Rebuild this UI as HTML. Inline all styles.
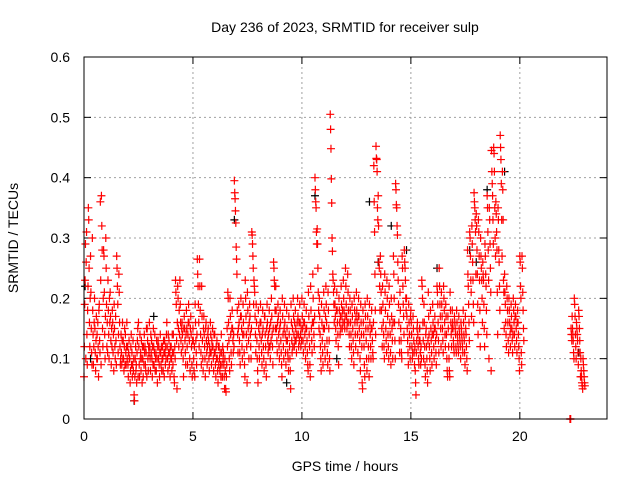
<!DOCTYPE html>
<html><head><meta charset="utf-8"><style>
body{margin:0;background:#fff}
svg{display:block;font-family:"Liberation Sans",sans-serif}
</style></head><body>
<svg id="chart" width="640" height="480">
<rect width="640" height="480" fill="#fff"/>
<text x="345" y="32" text-anchor="middle" font-size="14">Day 236 of 2023, SRMTID for receiver sulp</text>
<text x="345" y="471" text-anchor="middle" font-size="14">GPS time / hours</text>
<text transform="translate(18,238) rotate(-90)" text-anchor="middle" font-size="14">SRMTID / TECUs</text>
<g id="grid"></g><g id="axes"></g><g id="black"></g><g id="red"></g>
<rect x="84" y="57" width="523" height="362" fill="none" stroke="#000"/>
</svg>
<script>
const xTicks=[0,5,10,15,20];
const yTicks=[0,0.1,0.2,0.3,0.4,0.5,0.6];
const yTickLabels=["0","0.1","0.2","0.3","0.4","0.5","0.6"];
const redTimes=[0.0,0.1,0.2,0.3,0.4,0.5,0.6,0.7,0.8,0.9,1.0,1.1,1.2,1.3,1.4,1.5,1.6,1.7,1.8,1.9,2.0,2.1,2.2,2.3,2.4,2.5,2.6,2.7,2.8,2.9,3.0,3.1,3.2,3.3,3.4,3.5,3.6,3.7,3.8,3.9,4.0,4.1,4.2,4.3,4.4,4.5,4.6,4.7,4.8,4.9,5.0,5.1,5.2,5.3,5.4,5.5,5.6,5.7,5.8,5.9,6.0,6.1,6.2,6.3,6.4,6.5,6.6,6.7,6.8,6.9,7.0,7.1,7.2,7.3,7.4,7.5,7.6,7.7,7.8,7.9,8.0,8.1,8.2,8.3,8.4,8.5,8.6,8.7,8.8,8.9,9.0,9.1,9.2,9.3,9.4,9.5,9.6,9.7,9.8,9.9,10.0,10.1,10.2,10.3,10.4,10.5,10.6,10.7,10.8,10.9,11.0,11.1,11.2,11.3,11.4,11.5,11.6,11.7,11.8,11.9,12.0,12.1,12.2,12.3,12.4,12.5,12.6,12.7,12.8,12.9,13.0,13.1,13.2,13.3,13.4,13.5,13.6,13.7,13.8,13.9,14.0,14.1,14.2,14.3,14.4,14.5,14.6,14.7,14.8,14.9,15.0,15.1,15.2,15.3,15.4,15.5,15.6,15.7,15.8,15.9,16.0,16.1,16.2,16.3,16.4,16.5,16.6,16.7,16.8,16.9,17.0,17.1,17.2,17.3,17.4,17.5,17.6,17.7,17.8,17.9,18.0,18.1,18.2,18.3,18.4,18.5,18.6,18.7,18.8,18.9,19.0,19.1,19.2,19.3,19.4,19.5,19.6,19.7,19.8,19.9,20.0,20.1,22.3,22.4,22.5,22.6,22.7,22.8,22.9];
const redValues=[
[.07,.12,.19,.23,.29,.10],[.26,.31,.14,.09,.18,.22],[.35,.33,.25,.16,.12,.2],[.27,.21,.15,.11,.09,.3],[.18,.14,.09,.12,.16,.2],[.15,.11,.08,.13,.17,.1],[.14,.10,.16,.12,.07,.18],[.19,.13,.11,.36,.23,.09],[.37,.32,.28,.15,.12,.2],[.28,.27,.21,.14,.10,.17],
[.30,.25,.19,.12,.16,.11],[.23,.18,.14,.10,.20,.16],[.21,.17,.13,.09,.15,.12],[.18,.16,.11,.14,.08,.19],[.15,.12,.10,.17,.13,.09],[.27,.25,.22,.19,.11,.14],[.24,.21,.16,.12,.09,.1],[.14,.11,.09,.13,.16,.1],[.13,.10,.08,.12,.15,.09],[.14,.11,.09,.12,.16,.1],
[.12,.09,.07,.11,.13,.1],[.10,.06,.08,.12,.14,.09],[.11,.07,.09,.13,.08,.1],[.04,.03,.07,.10,.12,.08],[.09,.06,.11,.13,.15,.07],[.16,.12,.09,.07,.14,.1],[.11,.08,.13,.10,.06,.12],[.10,.07,.12,.09,.14,.11],[.12,.09,.08,.11,.15,.07],[.15,.13,.10,.08,.12,.11],
[.16,.12,.10,.08,.14,.11],[.13,.10,.07,.12,.09,.15],[.12,.09,.11,.14,.08,.1],[.11,.08,.13,.10,.06,.12],[.13,.10,.12,.09,.07,.11],[.14,.11,.09,.12,.08,.1],[.12,.10,.08,.13,.11,.07],[.13,.11,.09,.12,.10,.14],[.16,.12,.10,.08,.14,.11],[.13,.09,.11,.07,.12,.1],
[.12,.10,.08,.14,.11,.09],[.14,.11,.07,.06,.12,.1],[.23,.21,.19,.13,.05,.16],[.22,.20,.15,.12,.18,.14],[.23,.19,.16,.13,.11,.15],[.16,.14,.12,.10,.07,.15],[.17,.15,.13,.11,.09,.14],[.18,.15,.12,.09,.14,.16],[.19,.16,.13,.10,.08,.15],[.17,.14,.12,.09,.07,.13],
[.15,.13,.10,.08,.12,.07],[.19,.16,.13,.11,.09,.14],[.265,.24,.22,.19,.16,.12],[.265,.22,.18,.14,.11,.09],[.22,.17,.13,.10,.08,.15],[.17,.14,.12,.10,.07,.15],[.16,.13,.11,.09,.12,.14],[.15,.13,.10,.08,.12,.11],[.16,.14,.11,.09,.13,.12],[.15,.12,.10,.08,.14,.11],
[.14,.11,.09,.07,.12,.1],[.13,.10,.08,.06,.12,.09],[.12,.10,.08,.11,.09,.07],[.14,.11,.09,.07,.12,.1],[.11,.09,.07,.05,.10,.08],[.05,.045,.07,.09,.15,.12],[.21,.20,.16,.13,.10,.08],[.20,.17,.14,.11,.09,.15],[.18,.15,.13,.11,.14,.12],[.395,.375,.365,.345,.325,.285],
[.265,.24,.18,.14,.11,.15],[.19,.16,.13,.11,.09,.17],[.20,.17,.15,.12,.10,.14],[.19,.16,.14,.11,.09,.07],[.23,.20,.17,.14,.12,.06],[.21,.18,.15,.13,.10,.16],[.19,.17,.14,.12,.10,.15],[.31,.305,.29,.27,.25,.19],[.23,.22,.21,.17,.14,.11],[.19,.16,.13,.10,.08,.06],
[.18,.15,.12,.10,.14,.16],[.19,.16,.13,.11,.09,.14],[.18,.15,.12,.10,.08,.17],[.17,.14,.12,.09,.07,.15],[.19,.16,.13,.11,.14,.12],[.18,.15,.12,.10,.16,.13],[.20,.17,.14,.12,.09,.15],[.26,.25,.23,.22,.18,.15],[.22,.18,.15,.13,.11,.16],[.19,.17,.14,.12,.10,.15],
[.18,.16,.13,.11,.09,.07],[.20,.17,.14,.12,.10,.15],[.19,.16,.14,.11,.09,.13],[.18,.15,.13,.11,.10,.08],[.17,.14,.12,.10,.08,.05],[.19,.16,.13,.11,.15,.12],[.20,.17,.14,.12,.16,.13],[.18,.15,.13,.11,.14,.16],[.20,.17,.14,.12,.16,.13],[.19,.16,.14,.12,.15,.13],
[.20,.17,.15,.13,.11,.16],[.19,.16,.14,.12,.10,.15],[.18,.15,.13,.11,.09,.08],[.21,.17,.14,.12,.09,.07],[.22,.18,.15,.13,.11,.16],[.24,.20,.16,.14,.12,.17],[.40,.38,.36,.35,.31,.29],[.315,.29,.25,.21,.18,.15],[.20,.17,.14,.12,.10,.08],[.19,.16,.13,.11,.09,.15],
[.21,.18,.15,.12,.10,.17],[.22,.19,.16,.13,.11,.09],[.21,.18,.15,.13,.10,.08],[.505,.48,.448,.398,.358,.30],[.278,.24,.23,.21,.19,.16],[.22,.19,.17,.15,.13,.18],[.21,.18,.16,.14,.12,.09],[.20,.18,.16,.14,.17,.15],[.22,.19,.17,.15,.18,.16],[.23,.20,.18,.16,.15,.17],
[.25,.22,.19,.17,.15,.16],[.24,.21,.18,.16,.14,.12],[.20,.18,.16,.14,.12,.10],[.19,.17,.15,.13,.11,.09],[.20,.18,.16,.14,.12,.17],[.21,.18,.16,.14,.11,.17],[.20,.17,.15,.13,.10,.08],[.19,.16,.14,.12,.06,.05],[.18,.16,.14,.12,.09,.07],[.19,.17,.15,.13,.10,.08],
[.20,.17,.15,.12,.10,.07],[.19,.16,.14,.12,.10,.15],[.18,.15,.13,.11,.10,.16],[.42,.36,.31,.24,.18,.14],[.452,.432,.43,.41,.35,.33],[.37,.32,.26,.25,.22,.18],[.27,.24,.21,.18,.15,.12],[.22,.19,.16,.14,.12,.10],[.24,.21,.18,.15,.13,.11],[.23,.20,.17,.14,.12,.10],
[.22,.19,.16,.14,.11,.09],[.20,.17,.15,.13,.10,.16],[.27,.24,.20,.16,.13,.10],[.39,.38,.355,.35,.32,.305],[.26,.23,.19,.16,.13,.11],[.21,.18,.15,.13,.11,.10],[.27,.25,.22,.19,.17,.14],[.28,.26,.25,.23,.20,.18],[.20,.17,.15,.13,.11,.09],[.19,.16,.14,.12,.10,.17],
[.18,.16,.14,.12,.10,.11],[.17,.15,.13,.11,.09,.12],[.08,.06,.04,.11,.13,.15],[.16,.14,.12,.10,.09,.13],[.15,.13,.11,.09,.12,.1],[.23,.22,.20,.16,.13,.10],[.19,.16,.12,.09,.07,.14],[.15,.12,.10,.08,.06,.13],[.21,.17,.14,.12,.10,.08],[.18,.15,.13,.11,.09,.14],
[.19,.16,.14,.12,.10,.15],[.17,.15,.13,.11,.09,.14],[.22,.21,.19,.16,.13,.11],[.25,.22,.19,.17,.15,.12],[.21,.19,.17,.15,.13,.11],[.22,.20,.18,.16,.14,.12],[.19,.17,.14,.10,.08,.07],[.17,.15,.12,.10,.08,.07],[.21,.18,.16,.14,.12,.15],[.18,.16,.15,.13,.12,.11],
[.17,.16,.15,.14,.12,.11],[.18,.16,.14,.13,.12,.11],[.17,.15,.14,.13,.12,.10],[.16,.15,.14,.13,.12,.11],[.18,.16,.14,.13,.11,.09],[.17,.15,.14,.12,.10,.08],[.28,.24,.22,.19,.16,.13],[.31,.30,.27,.23,.21,.17],[.32,.29,.26,.23,.19,.16],[.375,.36,.35,.33,.31,.24],
[.34,.32,.28,.24,.19,.14],[.33,.31,.27,.23,.18,.12],[.30,.27,.25,.23,.20,.16],[.26,.24,.23,.19,.15,.12],[.29,.27,.24,.22,.18,.14],[.37,.35,.31,.28,.23,.10],[.35,.33,.29,.25,.21,.08],[.445,.41,.39,.37,.33,.29],[.45,.44,.41,.35,.30,.27],[.36,.34,.31,.28,.21,.14],
[.35,.33,.28,.26,.22,.18],[.47,.45,.43,.39,.33,.27],[.41,.38,.33,.23,.21,.15],[.24,.21,.19,.16,.14,.12],[.22,.20,.18,.16,.13,.11],[.20,.18,.16,.14,.12,.15],[.19,.17,.15,.13,.11,.14],[.20,.18,.16,.14,.12,.17],[.19,.17,.15,.13,.11,.16],[.18,.16,.14,.12,.10,.08],
[.27,.26,.22,.20,.11,.09],[.27,.25,.21,.18,.15,.13],
[0,0,0,.15,.14,.13],[.17,.15,.14,.13,.11,.10],[.20,.19,.17,.14,.12,.10],[.16,.15,.14,.13,.11,.09],[.18,.17,.15,.13,.11,.07],[.10,.08,.07,.06,.055,.05],[.10,.09,.08,.07,.06,.055]];
const blackTimes=[0.05,0.3,2.3,3.2,6.9,9.3,10.6,11.6,13.1,13.5,14.1,14.8,15.4,16.2,17.7,18.0,18.5,19.3,22.7];
const blackValues=[.22,.10,.03,.17,.33,.06,.37,.10,.36,.26,.32,.28,.15,.25,.28,.26,.38,.41,.11];

const X0=84,X1=607,Y0=419,Y1=57,XMAX=24,YMAX=0.6;
const sx=t=>X0+t/XMAX*(X1-X0);
const sy=v=>Y0-v/YMAX*(Y0-Y1);
const NS="http://www.w3.org/2000/svg";
function mk(tag,attrs,parent){const e=document.createElementNS(NS,tag);for(const k in attrs)e.setAttribute(k,attrs[k]);parent.appendChild(e);return e;}
const grid=document.getElementById('grid'),axes=document.getElementById('axes');
xTicks.forEach(t=>{const x=sx(t);
 if(t>0){const g=mk('line',{x1:x,x2:x,y1:Y1,y2:Y0,stroke:'#a0a0a0','stroke-dasharray':'2,3'},grid);
 
 }
 mk('line',{x1:x,x2:x,y1:Y0,y2:Y0-7,stroke:'#000'},axes);
 mk('line',{x1:x,x2:x,y1:Y1,y2:Y1+7,stroke:'#000'},axes);
 const l=mk('text',{x:x,y:Y0+22,'text-anchor':'middle','font-size':14},axes);l.textContent=t;
 
 
});
yTicks.forEach((v,i)=>{const y=sy(v);
 if(v>0&&v<0.6){const g=mk('line',{x1:X0,x2:X1,y1:y,y2:y,stroke:'#a0a0a0','stroke-dasharray':'2,3'},grid);
 
 }
 mk('line',{x1:X0,x2:X0+7,y1:y,y2:y,stroke:'#000'},axes);
 mk('line',{x1:X1,x2:X1-7,y1:y,y2:y,stroke:'#000'},axes);
 const l=mk('text',{x:X0-14,y:y+5,'text-anchor':'end','font-size':14},axes);l.textContent=yTickLabels[i];
 
 
});
function plus(x,y,col,parent){const p=mk('path',{d:`M${x-4} ${y}h8M${x} ${y-4}v8`,stroke:col,'stroke-width':1.2,fill:'none'},parent);return p;}
const bg=document.getElementById('black'),rg=document.getElementById('red');
blackTimes.forEach((t,i)=>{const p=plus(sx(t),sy(blackValues[i]),'#000',bg);
 
 });
redTimes.forEach((t,i)=>{const row=redValues[i];row.forEach((v,j)=>{
 const p=plus(sx(t+j*0.1/row.length),sy(v),'#f00',rg);
 
 });});
</script>
</body></html>
